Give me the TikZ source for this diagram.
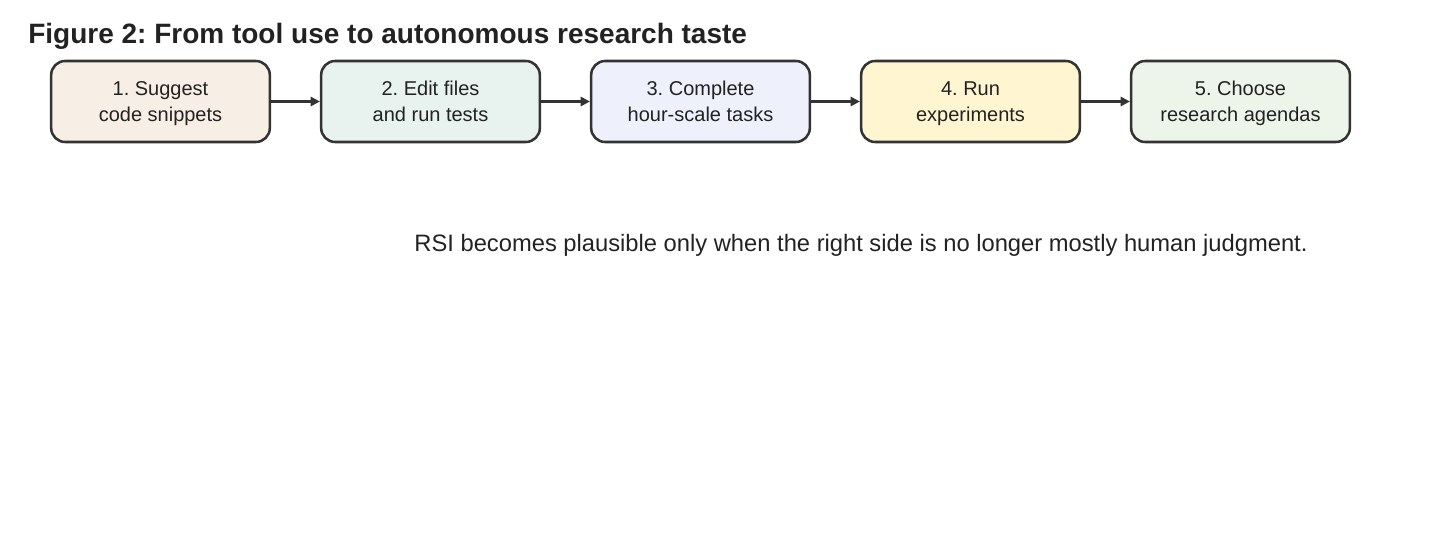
\documentclass[tikz,border=0pt]{standalone}
\usepackage{fontspec}
\setmainfont{Liberation Sans}
\frenchspacing
\usetikzlibrary{arrows.meta}
\definecolor{strokec}{HTML}{333333}
\definecolor{textc}{HTML}{222222}
\definecolor{c1}{HTML}{F7EEE5}
\definecolor{c2}{HTML}{E8F2EE}
\definecolor{c3}{HTML}{EEF0FB}
\definecolor{c4}{HTML}{FFF5D0}
\definecolor{c5}{HTML}{EDF4EA}
\newcommand\lnstrut{\rule[-4pt]{0pt}{18.5pt}}
\tikzset{
  stepbox/.style={draw=strokec, line width=1.9pt, rounded corners=10.5pt,
    minimum width=164pt, minimum height=60.75pt, align=center,
    font=\fontsize{15pt}{18pt}\selectfont, text=textc, inner sep=0pt},
  conn/.style={draw=strokec, line width=1.6pt, -{Triangle[length=7pt,width=7pt]}}
}
\begin{document}
\begin{tikzpicture}[x=0.75pt,y=-0.75pt]
\useasboundingbox (0,0) rectangle (1430,540);
\node[anchor=west, inner sep=0pt, font=\bfseries\fontsize{21pt}{24pt}\selectfont, text=textc] (title) at (28,36.5) {Figure 2: From tool use to autonomous research taste};
\node[stepbox, fill=c1] (s1) at (160.5,101.5) {\lnstrut 1. Suggest\\\lnstrut code snippets};
\node[stepbox, fill=c2] (s2) at (430.5,101.5) {\lnstrut 2. Edit files\\\lnstrut and run tests};
\node[stepbox, fill=c3] (s3) at (700.5,101.5) {\lnstrut 3. Complete\\\lnstrut hour-scale tasks};
\node[stepbox, fill=c4] (s4) at (970.5,101.5) {\lnstrut 4. Run\\\lnstrut experiments};
\node[stepbox, fill=c5] (s5) at (1240.5,101.5) {\lnstrut 5. Choose\\\lnstrut research agendas};
\draw[conn] (s1) -- (s2);
\draw[conn] (s2) -- (s3);
\draw[conn] (s3) -- (s4);
\draw[conn] (s4) -- (s5);
\node[font=\fontsize{17.8pt}{20pt}\selectfont, text=textc] (note) at (861,245.5) {RSI becomes plausible only when the right side is no longer mostly human judgment.};
\end{tikzpicture}
\end{document}
